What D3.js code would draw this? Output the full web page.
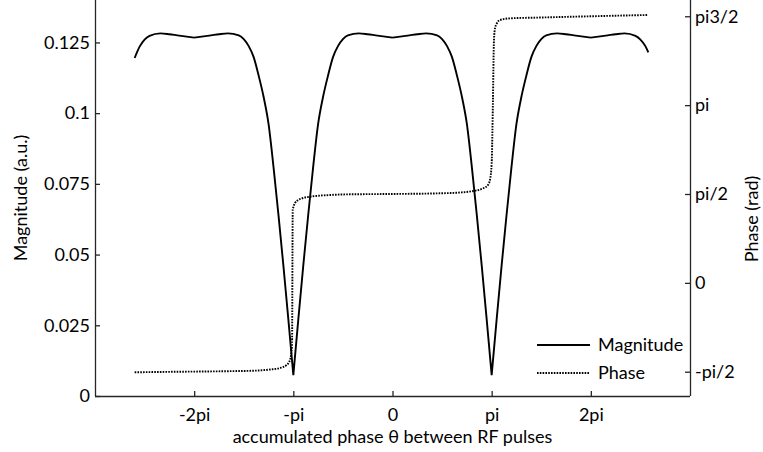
<!DOCTYPE html>
<html><head><meta charset="utf-8">
<script src="https://cdn.jsdelivr.net/npm/d3@7"></script>
<style>
html,body{margin:0;padding:0;background:#fff;}
svg{display:block;font-family:Lato,"Open Sans",sans-serif;}
</style></head>
<body>
<script>
// theta values in multiples of pi
const thetaMag = [-2.6,-2.55,-2.5,-2.45,-2.34,-2.25,-2.17,-2.0,-1.83,-1.75,-1.66,-1.55,-1.5,-1.45,-1.4,-1.35,-1.3,-1.25,-1.2,-1.15,-1.1,-1.05,-1.0,
 -0.95,-0.9,-0.85,-0.8,-0.75,-0.7,-0.65,-0.6,-0.55,-0.5,-0.45,-0.34,-0.25,-0.17,0,0.17,0.25,0.34,0.45,0.5,0.55,0.6,0.65,0.7,0.75,0.8,0.85,0.9,0.95,1.0,
 1.05,1.1,1.15,1.2,1.25,1.3,1.35,1.4,1.45,1.5,1.55,1.66,1.75,1.83,2.0,2.17,2.25,2.34,2.45,2.5,2.55,2.58];
const magnitude = [0.1195,0.1235,0.1260,0.1273,0.1282,0.1279,0.1275,0.1267,0.1275,0.1279,0.1282,0.1275,0.1262,0.1237,0.1198,0.1133,0.1058,0.0962,0.0810,0.0640,0.0460,0.0270,0.0074,
 0.0270,0.0460,0.0640,0.0810,0.0962,0.1058,0.1133,0.1198,0.1237,0.1262,0.1275,0.1282,0.1279,0.1275,0.1267,0.1275,0.1279,0.1282,0.1275,0.1262,0.1237,0.1198,0.1133,0.1058,0.0962,0.0810,0.0640,0.0460,0.0270,0.0074,
 0.0270,0.0460,0.0640,0.0810,0.0962,0.1058,0.1133,0.1198,0.1237,0.1262,0.1275,0.1282,0.1279,0.1275,0.1267,0.1275,0.1279,0.1282,0.1273,0.1260,0.1237,0.1215];
const thetaPhase = [-2.6,-2.2,-1.8,-1.6,-1.4,-1.235,-1.134,-1.067,-1.034,-1.013,-1.006,-0.983,-0.95,-0.902,-0.832,-0.63,-0.429,0,0.479,0.681,0.815,0.916,0.963,0.983,1.0,1.013,1.023,1.034,1.054,1.084,1.185,1.487,1.823,2.193,2.579];
const phase = [-1.581,-1.572,-1.565,-1.560,-1.553,-1.532,-1.505,-1.452,-1.364,-1.10,1.288,1.41,1.465,1.50,1.523,1.553,1.565,1.571,1.583,1.597,1.624,1.672,1.73,1.82,2.113,3.232,4.293,4.50,4.593,4.646,4.676,4.690,4.705,4.720,4.735];

const xTicks = [-2,-1,0,1,2];
const xTickLabels = ["-2pi","-pi","0","pi","2pi"];
const magTicks = [0,0.025,0.05,0.075,0.1,0.125];
const magTickLabels = ["0","0.025","0.05","0.075","0.1","0.125"];
const phaseTicks = [-Math.PI/2,0,Math.PI/2,Math.PI,3*Math.PI/2];
const phaseTickLabels = ["-pi/2","0","pi/2","pi","pi3/2"];
const seriesNames = ["Magnitude","Phase"];

const W=763,H=452;
const L=95,R=690,T=0,B=396;
const svg=d3.select("body").append("svg").attr("width",W).attr("height",H);
const x=d3.scaleLinear().domain([-3,3]).range([L,R]);
const yM=d3.scaleLinear().domain([0,0.14]).range([B,T]);
const yP=d3.scaleLinear().domain([-2,5]).range([B,T]);
const axisColor="#262626";
const fs=18;

// axes
const gl=svg.append("g").attr("transform",`translate(${L},0)`)
 .call(d3.axisLeft(yM).tickValues(magTicks).tickFormat((d,i)=>magTickLabels[i]).tickSizeInner(-5).tickSizeOuter(0).tickPadding(5));
const gr=svg.append("g").attr("transform",`translate(${R},0)`)
 .call(d3.axisRight(yP).tickValues(phaseTicks).tickFormat((d,i)=>phaseTickLabels[i]).tickSizeInner(-5).tickSizeOuter(0).tickPadding(5));
const gb=svg.append("g").attr("transform",`translate(0,${B})`)
 .call(d3.axisBottom(x).tickValues(xTicks).tickFormat((d,i)=>xTickLabels[i]).tickSizeInner(-5).tickSizeOuter(0).tickPadding(12));
[gl,gr,gb].forEach(g=>{
  g.selectAll("path,line").attr("stroke",axisColor).attr("stroke-width",1.3);
  g.selectAll("text").attr("fill","#000").style("font-size",fs+"px").style("font-family","Lato");
});
gl.select(".domain").attr("d",`M0.5,${T}V${B}`);
gr.select(".domain").attr("d",`M0.5,${T}V${B}`);
gb.select(".domain").attr("d",`M${L},0.5H${R}`);

// titles
svg.append("text").attr("x",(L+R)/2).attr("y",443).attr("text-anchor","middle")
 .style("font-size",fs+"px").text("accumulated phase θ between RF pulses");
svg.append("text").attr("transform","translate(27,198) rotate(-90)").attr("text-anchor","middle")
 .style("font-size",fs+"px").text("Magnitude (a.u.)");
svg.append("text").attr("transform","translate(758,219) rotate(-90)").attr("text-anchor","middle")
 .style("font-size",fs+"px").text("Phase (rad)");

// magnitude: split into segments at the dips so each V stays sharp
const magPts=thetaMag.map((t,i)=>[t,magnitude[i]]);
const segs=[];let cur=[];
magPts.forEach((p,i)=>{
  cur.push(p);
  const isMin=i>0&&i<magPts.length-1&&p[1]<magPts[i-1][1]&&p[1]<magPts[i+1][1];
  if(isMin){segs.push(cur);cur=[p];}
});
segs.push(cur);
const lineM=d3.line().x(d=>x(d[0])).y(d=>yM(d[1])).curve(d3.curveMonotoneX);
const lineP=d3.line().x((d,i)=>x(thetaPhase[i])).y(d=>yP(d)).curve(d3.curveMonotoneX);
svg.append("path").attr("d",lineP(phase)).attr("fill","none").attr("stroke","#000")
 .attr("stroke-width",1.9).attr("stroke-dasharray","1.6,1.2");
svg.append("path").attr("d",segs.map(s=>lineM(s)).join("")).attr("fill","none").attr("stroke","#000")
 .attr("stroke-width",1.9).attr("stroke-linejoin","round");

// legend
const leg=svg.append("g");
seriesNames.forEach((n,i)=>{
  const yy=345+i*28;
  leg.append("line").attr("x1",537).attr("x2",590).attr("y1",yy).attr("y2",yy)
   .attr("stroke","#000").attr("stroke-width",1.9).attr("stroke-dasharray",i?"1.6,1.2":null);
  leg.append("text").attr("x",598).attr("y",yy).attr("dy","0.35em").style("font-size",fs+"px").text(n);
});
</script>
</body></html>
